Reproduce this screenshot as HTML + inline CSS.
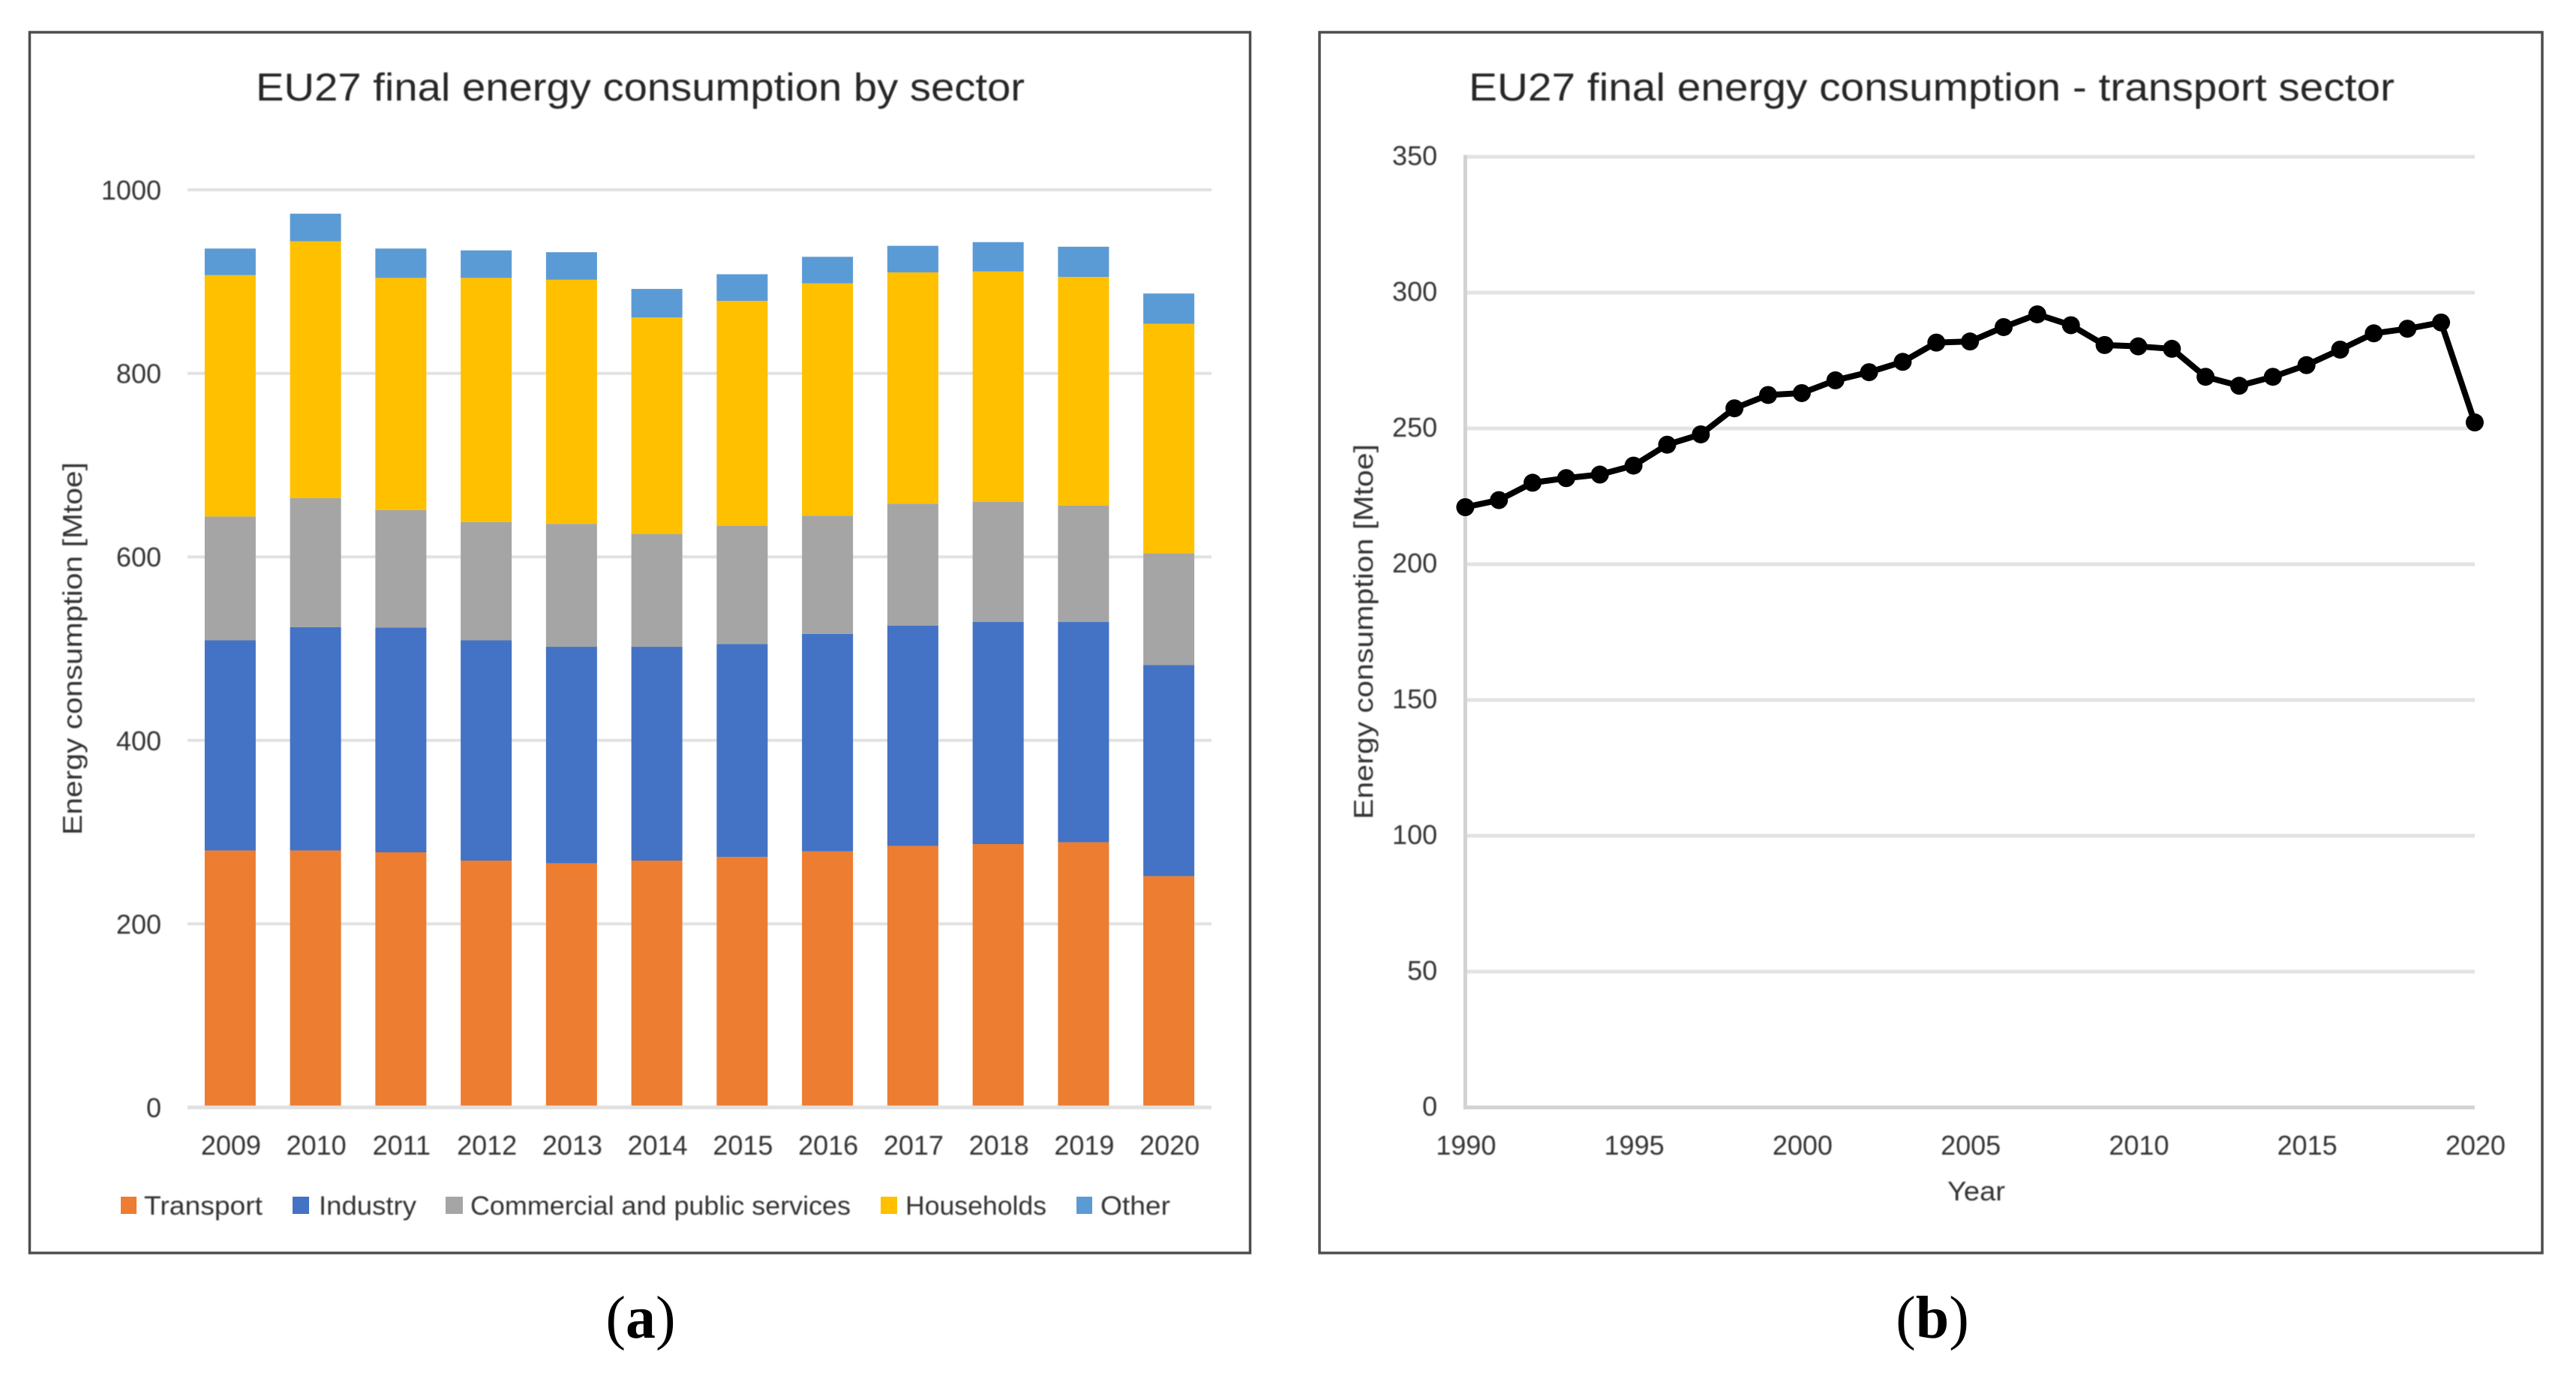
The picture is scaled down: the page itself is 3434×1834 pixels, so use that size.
<!DOCTYPE html>
<html>
<head>
<meta charset="utf-8">
<title>EU27 final energy consumption</title>
<style>
html,body{margin:0;padding:0;background:#fff;}
body{width:3434px;height:1834px;overflow:hidden;}
svg{display:block;font-family:"Liberation Sans",sans-serif;}
.soft{filter:blur(0.7px);}
</style>
</head>
<body>
<svg id="figure" xmlns="http://www.w3.org/2000/svg" width="3434" height="1834" viewBox="0 0 3434 1834">
  <rect x="0" y="0" width="3434" height="1834" fill="#fff"/>

  <g id="panel-a">
    <rect x="39.5" y="43" width="1627" height="1627" fill="none" stroke="#4d4d4d" stroke-width="3.5"/>
    <g id="a-grid"></g>
    <g id="a-bars"></g>
    <g id="a-base"></g>
    <g id="a-labels" class="soft"></g>
    <text class="soft" x="341" y="134" font-size="52" fill="#262626" textLength="1025" lengthAdjust="spacingAndGlyphs">EU27 final energy consumption  by sector</text>
    <text class="soft" transform="translate(109,1113) rotate(-90)" font-size="36" fill="#333" textLength="497" lengthAdjust="spacingAndGlyphs">Energy consumption [Mtoe]</text>

    <g>
      <g>
        <rect x="161" y="1595" width="21" height="23" fill="#ED7D31"/>
        <text class="soft" x="192" y="1619" font-size="35" fill="#333" textLength="158" lengthAdjust="spacingAndGlyphs">Transport</text>
      </g>
      <g>
        <rect x="390" y="1595" width="22" height="23" fill="#4472C4"/>
        <text class="soft" x="425" y="1619" font-size="35" fill="#333" textLength="130" lengthAdjust="spacingAndGlyphs">Industry</text>
      </g>
      <g>
        <rect x="594" y="1595" width="23" height="23" fill="#A5A5A5"/>
        <text class="soft" x="627" y="1619" font-size="35" fill="#333" textLength="507" lengthAdjust="spacingAndGlyphs">Commercial and public services</text>
      </g>
      <g>
        <rect x="1174" y="1595" width="22" height="23" fill="#FFC000"/>
        <text class="soft" x="1207" y="1619" font-size="35" fill="#333" textLength="188" lengthAdjust="spacingAndGlyphs">Households</text>
      </g>
      <g>
        <rect x="1435" y="1595" width="21" height="23" fill="#5B9BD5"/>
        <text class="soft" x="1467" y="1619" font-size="35" fill="#333" textLength="93" lengthAdjust="spacingAndGlyphs">Other</text>
      </g>
    </g>
  </g>

  <g id="panel-b">
    <rect x="1759" y="43" width="1630" height="1627" fill="none" stroke="#4d4d4d" stroke-width="3.5"/>
    <g id="b-grid"></g>
    <g id="b-line"></g>
    <g id="b-labels" class="soft"></g>
    <text class="soft" x="1958" y="134" font-size="52" fill="#262626" textLength="1234" lengthAdjust="spacingAndGlyphs">EU27 final energy consumption  - transport  sector</text>
    <text class="soft" transform="translate(1830,1092) rotate(-90)" font-size="36" fill="#333" textLength="500" lengthAdjust="spacingAndGlyphs">Energy consumption [Mtoe]</text>
    <text class="soft" x="2596" y="1600" font-size="36" fill="#333" textLength="77" lengthAdjust="spacingAndGlyphs">Year</text>
  </g>

  <text x="854" y="1783" text-anchor="middle" font-size="80" fill="#000" style="font-family:'Liberation Serif',serif">(<tspan font-weight="bold">a</tspan>)</text>
  <text x="2576" y="1783" text-anchor="middle" font-size="80" fill="#000" style="font-family:'Liberation Serif',serif">(<tspan font-weight="bold">b</tspan>)</text>
</svg>

<script>
// Panel (a): stacked bars, Mtoe per sector
const barYears = ["2009","2010","2011","2012","2013","2014","2015","2016","2017","2018","2019","2020"];
const transport = [280,280,278,269,266,269,273,279,285,287,289,252];
const industry = [229,243.5,245,240,236,233,232,237,240,242,240,230];
const commercial = [135,140.5,128,129,134,123,129,129,133,131,127,122];
const households = [263,280,253,266,266,236,245,253,252,251,249,250];
const other = [29,30,32,30,30,31,29,29,29,32,33,33];
const barTicks = [0,200,400,600,800,1000];

// Panel (b): transport sector time series
const lineYears = [1990,1991,1992,1993,1994,1995,1996,1997,1998,1999,2000,2001,2002,2003,2004,2005,2006,2007,2008,2009,2010,2011,2012,2013,2014,2015,2016,2017,2018,2019,2020];
const lineValues = [221,223.6,230,231.7,233,236.3,244,247.8,257.4,262.3,263,267.7,270.7,274.5,281.6,282,287.3,292,288,280.7,280.2,279.3,269,265.7,269,273.3,279,285,286.7,289,252.2];
const lineYTicks = [0,50,100,150,200,250,300,350];
const lineXTicks = [1990,1995,2000,2005,2010,2015,2020];

const NS = "http://www.w3.org/2000/svg";
function mk(parent, tag, attrs) {
  const el = document.createElementNS(NS, tag);
  for (const k in attrs) el.setAttribute(k, attrs[k]);
  parent.appendChild(el);
  return el;
}

// ---- Panel (a) axes
const aLeft = 250, aRight = 1615, aZero = 1476, aPxPerUnit = 1.223;
const aBand = (aRight - aLeft) / barYears.length, aBarW = 68;
function ay(v) { return aZero - v * aPxPerUnit; }
function ax(i) { return aLeft + aBand * (i + 0.5); }

const aGrid = document.getElementById("a-grid");
const aLabels = document.getElementById("a-labels");
barTicks.forEach(function (t) {
  if (t !== 0) {
    const g = mk(aGrid, "line", {x1: aLeft, x2: aRight, y1: ay(t), y2: ay(t), stroke: "#e2e2e2", "stroke-width": 4});
    
    
  }
  const l = mk(aLabels, "text", {x: 215, y: ay(t) + 13, "text-anchor": "end", "font-size": 36, fill: "#333"});
  l.textContent = String(t);
  
  
});

const stackSeries = [transport, industry, commercial, households, other];
const stackColors = ["#ED7D31", "#4472C4", "#A5A5A5", "#FFC000", "#5B9BD5"];
const stackNames = ["transport", "industry", "commercial", "households", "other"];
const aBars = document.getElementById("a-bars");
barYears.forEach(function (yr, i) {
  let cum = 0;
  stackSeries.forEach(function (series, s) {
    const top = ay(cum + series[i]);
    const bottom = ay(cum);
    const r = mk(aBars, "rect", {x: ax(i) - aBarW / 2, y: top, width: aBarW, height: bottom - top, fill: stackColors[s]});
    
    
    cum += series[i];
  });
  const l = mk(aLabels, "text", {x: ax(i) + 1, y: 1539, "text-anchor": "middle", "font-size": 36, fill: "#333"});
  l.textContent = yr;
  
  
});
const aBase = mk(document.getElementById("a-base"), "line", {x1: aLeft, x2: aRight, y1: aZero, y2: aZero, stroke: "#e0e0e0", "stroke-width": 5});



// ---- Panel (b) axes
const bLeft = 1953.3, bRight = 3299, bZero = 1476, bPxPerUnit = 3.62;
function by(v) { return bZero - v * bPxPerUnit; }
function bx(yr) { return bLeft + (yr - lineYears[0]) * (bRight - bLeft) / (lineYears[lineYears.length - 1] - lineYears[0]); }

const bGrid = document.getElementById("b-grid");
const bLabels = document.getElementById("b-labels");
lineYTicks.forEach(function (t) {
  const g = mk(bGrid, "line", {x1: bLeft, x2: bRight, y1: by(t), y2: by(t), stroke: t === 0 ? "#d2d2d2" : "#e3e3e3", "stroke-width": 5});
  
  
  const l = mk(bLabels, "text", {x: 1916, y: by(t) + 11, "text-anchor": "end", "font-size": 36, fill: "#333"});
  l.textContent = String(t);
  
  
});
const bAxis = mk(bGrid, "line", {x1: bLeft, x2: bLeft, y1: by(350) - 2.5, y2: bZero + 2.5, stroke: "#d2d2d2", "stroke-width": 5});


lineXTicks.forEach(function (t) {
  const l = mk(bLabels, "text", {x: bx(t) + 1, y: 1539, "text-anchor": "middle", "font-size": 36, fill: "#333"});
  l.textContent = String(t);
  
  
});

const bLine = document.getElementById("b-line");
const linePts = lineYears.map(function (yr, i) { return bx(yr).toFixed(2) + "," + by(lineValues[i]).toFixed(2); }).join(" ");
const poly = mk(bLine, "polyline", {points: linePts, fill: "none", stroke: "#000", "stroke-width": 8, "stroke-linejoin": "round"});


lineYears.forEach(function (yr, i) {
  const c = mk(bLine, "circle", {cx: bx(yr), cy: by(lineValues[i]), r: 12, fill: "#000"});
  
  
});
</script>
</body>
</html>
